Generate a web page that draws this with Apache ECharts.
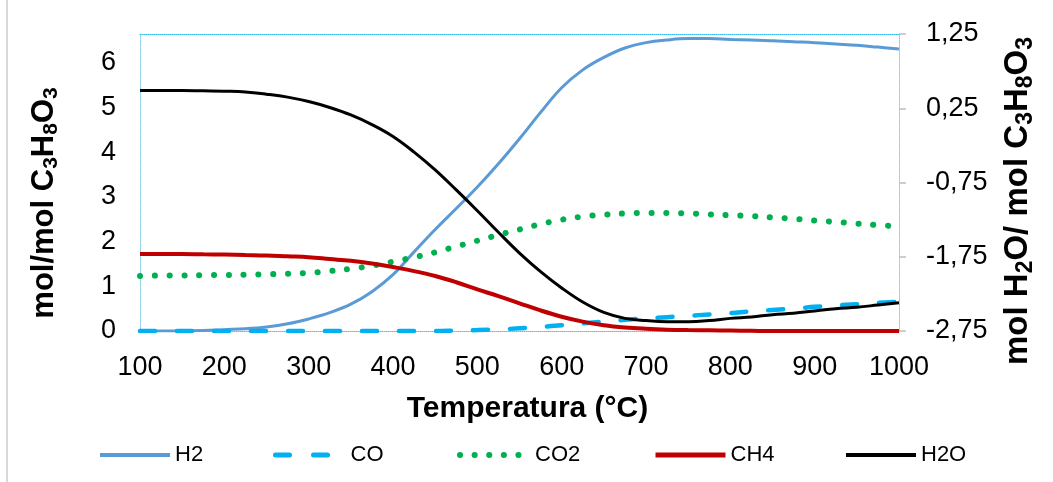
<!DOCTYPE html>
<html lang="es">
<head>
  <meta charset="UTF-8">
  <title>Temperatura</title>
  <style>
    html, body { margin: 0; padding: 0; background: #fff; }
    #main { width: 1053px; height: 482px; }
  </style>
</head>
<body>
<div id="main"></div>
<script src="https://cdn.jsdelivr.net/npm/echarts@6/dist/echarts.min.js"></script>
<script>
// temperaturas (°C)
var temps = [100, 125, 150, 175, 200, 225, 250, 275, 300, 325, 350, 375, 400, 425, 450, 475, 500, 525, 550,
             575, 600, 625, 650, 675, 700, 725, 750, 775, 800, 825, 850, 875, 900, 925, 950, 975, 1000];
// mol/mol C3H8O3 (eje izquierdo)
var h2  = [0.00, 0.00, 0.005, 0.01, 0.03, 0.05, 0.09, 0.16, 0.27, 0.41, 0.60, 0.88, 1.26, 1.77, 2.27, 2.74, 3.22, 3.74, 4.30,
           4.89, 5.44, 5.84, 6.12, 6.33, 6.45, 6.51, 6.54, 6.54, 6.52, 6.51, 6.49, 6.47, 6.45, 6.42, 6.39, 6.35, 6.31];
var co  = [0.00, 0.00, 0.00, 0.00, 0.00, 0.00, 0.00, 0.00, 0.00, 0.00, 0.00, 0.00, 0.00, 0.00, 0.00, 0.01, 0.02, 0.035, 0.06,
           0.09, 0.13, 0.17, 0.21, 0.25, 0.28, 0.31, 0.34, 0.37, 0.40, 0.44, 0.47, 0.50, 0.54, 0.57, 0.60, 0.63, 0.65];
var co2 = [1.23, 1.24, 1.24, 1.25, 1.25, 1.26, 1.27, 1.28, 1.30, 1.34, 1.39, 1.46, 1.55, 1.65, 1.76, 1.89, 2.02, 2.15, 2.27,
           2.39, 2.49, 2.56, 2.60, 2.63, 2.64, 2.64, 2.63, 2.61, 2.59, 2.57, 2.54, 2.51, 2.47, 2.44, 2.40, 2.37, 2.34];
var ch4 = [1.72, 1.72, 1.72, 1.715, 1.71, 1.70, 1.69, 1.67, 1.65, 1.61, 1.57, 1.51, 1.43, 1.34, 1.23, 1.09, 0.93, 0.78, 0.62,
           0.46, 0.32, 0.21, 0.13, 0.08, 0.05, 0.03, 0.02, 0.015, 0.01, 0.005, 0.00, 0.00, 0.00, 0.00, 0.00, 0.00, 0.00];
// mol H2O / mol C3H8O3 (eje derecho)
var h2o = [0.49, 0.49, 0.49, 0.485, 0.48, 0.47, 0.44, 0.40, 0.34, 0.26, 0.16, 0.03, -0.13, -0.34, -0.58, -0.85, -1.13, -1.42, -1.70,
           -1.95, -2.17, -2.36, -2.50, -2.58, -2.61, -2.625, -2.625, -2.61, -2.58, -2.56, -2.53, -2.51, -2.48, -2.45, -2.43, -2.40, -2.37];

var rightTicks = [-2.75, -1.75, -0.75, 0.25, 1.25];
var names = ['H2', 'CO', 'CO2', 'CH4', 'H2O'];
var legendLeft = [93, 268, 452, 648, 839];

var font = 'Arial, "Liberation Sans", sans-serif';

var styles = {
  H2:  { color: '#5b9bd5', width: 3 },
  CO:  { color: '#00b0f0', width: 4.5, type: [15, 22], cap: 'round' },
  CO2: { color: '#00b050', width: 6, type: [0.1, 14.7], cap: 'round' },
  CH4: { color: '#c00000', width: 4 },
  H2O: { color: '#000000', width: 3 }
};
var legendStyles = {
  H2:  { color: '#5b9bd5', width: 4 },
  CO:  { color: '#00b0f0', width: 5, type: [14, 24], cap: 'round' },
  CO2: { color: '#00b050', width: 6, type: [0.1, 14.5], cap: 'round' },
  CH4: { color: '#c00000', width: 5 },
  H2O: { color: '#000000', width: 4 }
};

function pairs(arr) {
  return temps.map(function (t, i) { return [t, arr[i]]; });
}

var myChart = echarts.init(document.getElementById('main'));

function titleRich(big, small) {
  return {
    a: { fontFamily: font, fontWeight: 'bold', fontSize: big, color: '#000', lineHeight: big + 5 },
    s: { fontFamily: font, fontWeight: 'bold', fontSize: small, color: '#000', lineHeight: big + 5, verticalAlign: 'bottom' }
  };
}

function makeSeries(name, arr, axis) {
  return {
    name: name, type: 'line', smooth: 0.4, symbol: 'none',
    yAxisIndex: axis, data: pairs(arr),
    lineStyle: styles[name], itemStyle: { color: styles[name].color }
  };
}

var option = {
  backgroundColor: '#fff',
  animation: false,
  grid: { left: 140, right: 154, top: 34, bottom: 151 },
  legend: names.map(function (n, i) {
    return {
      data: [n],
      left: legendLeft[i],
      top: 439,
      itemWidth: 70,
      itemHeight: 14,
      itemGap: 0,
      itemStyle: { opacity: 0 },
      lineStyle: legendStyles[n],
      textStyle: { fontFamily: font, fontSize: 22, color: '#000' }
    };
  }),
  graphic: [
    {
      type: 'line',
      shape: { x1: 7, y1: 0, x2: 7, y2: 482 },
      style: { stroke: '#d9d9d9', lineWidth: 2 }
    },
    {
      type: 'text',
      x: 44, y: 203,
      rotation: Math.PI / 2,
      style: {
        text: '{a|mol/mol C}{s|3}{a|H}{s|8}{a|O}{s|3}',
        rich: titleRich(31, 21),
        align: 'center',
        verticalAlign: 'middle'
      }
    },
    {
      type: 'text',
      x: 1018, y: 201,
      rotation: Math.PI / 2,
      style: {
        text: '{a|mol H}{s|2}{a|O/ mol C}{s|3}{a|H}{s|8}{a|O}{s|3}',
        rich: titleRich(33, 23),
        align: 'center',
        verticalAlign: 'middle'
      }
    }
  ],
  xAxis: [
    {
      type: 'value',
      min: 100,
      max: 1000,
      interval: 100,
      name: 'Temperatura (°C)',
      nameLocation: 'middle',
      nameGap: 63,
      nameTextStyle: { fontFamily: font, fontWeight: 'bold', fontSize: 30, color: '#000', padding: [0, 0, 0, 16] },
      axisLine: { show: true, onZero: false, lineStyle: { color: '#a6a6a6', type: 'dotted', width: 1 } },
      axisTick: { show: false },
      splitLine: { show: false },
      axisLabel: { margin: 23, fontFamily: font, fontSize: 27, color: '#000', formatter: function (v) { return String(v); } }
    },
    {
      type: 'value',
      position: 'top',
      min: 100,
      max: 1000,
      axisLine: { show: true, onZero: false, lineStyle: { color: '#33bbee', type: 'dotted', width: 1 } },
      axisTick: { show: false },
      axisLabel: { show: false },
      splitLine: { show: false }
    }
  ],
  yAxis: [
    {
      type: 'value',
      min: 0,
      max: 6.643,
      interval: 1,
      axisLine: { show: true, onZero: false, lineStyle: { color: '#8cc8e0', type: 'dotted', width: 1 } },
      axisTick: { show: false },
      splitLine: { show: false },
      axisLabel: { margin: 24, showMaxLabel: false, fontFamily: font, fontSize: 27, color: '#000' }
    },
    {
      type: 'value',
      position: 'right',
      min: -2.75,
      max: 1.25,
      axisLine: { show: true, onZero: false, lineStyle: { color: '#8cc8e0', type: 'dotted', width: 1 } },
      axisTick: { show: true, length: 7, customValues: rightTicks, lineStyle: { color: '#bfbfbf', width: 1.5 } },
      splitLine: { show: false },
      axisLabel: {
        margin: 27,
        customValues: rightTicks,
        fontFamily: font, fontSize: 27, color: '#000',
        formatter: function (v) { return v.toFixed(2).replace('.', ','); }
      }
    }
  ],
  series: [
    makeSeries('H2', h2, 0),
    makeSeries('CO', co, 0),
    makeSeries('CO2', co2, 0),
    makeSeries('CH4', ch4, 0),
    makeSeries('H2O', h2o, 1)
  ]
};

myChart.setOption(option);
</script>
</body>
</html>
